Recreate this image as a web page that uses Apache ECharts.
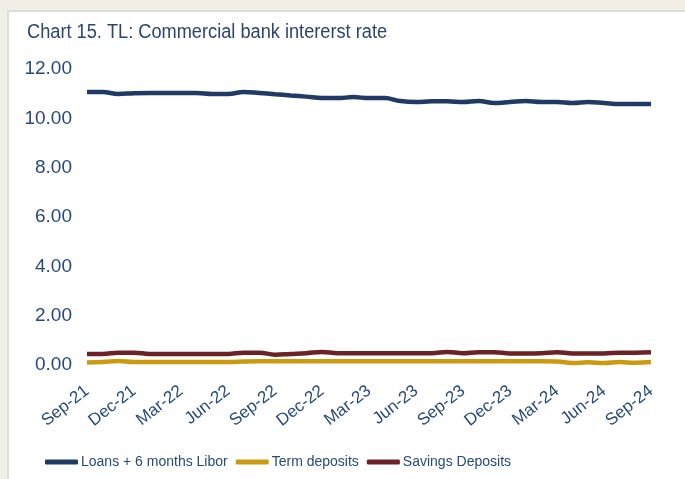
<!DOCTYPE html>
<html>
<head>
<meta charset="utf-8">
<script src="https://cdn.jsdelivr.net/npm/echarts@6/dist/echarts.min.js"></script>
<style>
  html, body { margin: 0; padding: 0; width: 685px; height: 479px; overflow: hidden; background: #f1eee6; }
  #frame { position: absolute; left: 7px; top: 10px; width: 700px; height: 500px; background: #fff; border: 2px solid #dcdcdc; }
  #chart { position: absolute; left: 0; top: 0; width: 685px; height: 479px; }
</style>
</head>
<body>
<div id="frame"></div>
<div id="chart"></div>
<script>
// monthly, Sep-21 .. Sep-24
const months = ['Sep-21','Oct-21','Nov-21','Dec-21','Jan-22','Feb-22','Mar-22','Apr-22','May-22','Jun-22','Jul-22','Aug-22',
  'Sep-22','Oct-22','Nov-22','Dec-22','Jan-23','Feb-23','Mar-23','Apr-23','May-23','Jun-23','Jul-23','Aug-23',
  'Sep-23','Oct-23','Nov-23','Dec-23','Jan-24','Feb-24','Mar-24','Apr-24','May-24','Jun-24','Jul-24','Aug-24','Sep-24'];

const loans = [11.07,11.07,10.99,11.02,11.03,11.03,11.03,11.03,10.99,10.99,11.07,11.03,
  10.98,10.93,10.88,10.82,10.82,10.86,10.82,10.82,10.70,10.66,10.69,10.69,
  10.66,10.70,10.62,10.66,10.70,10.66,10.66,10.62,10.66,10.62,10.58,10.58,10.58];

const termDeposits = [0.10,0.12,0.16,0.12,0.12,0.12,0.12,0.12,0.12,0.12,0.14,0.15,
  0.15,0.15,0.15,0.15,0.15,0.15,0.15,0.15,0.15,0.15,0.15,0.15,
  0.15,0.15,0.15,0.15,0.15,0.15,0.14,0.08,0.11,0.08,0.12,0.09,0.12];

const savingsDeposits = [0.45,0.45,0.50,0.50,0.45,0.45,0.45,0.45,0.45,0.45,0.50,0.50,
  0.42,0.45,0.48,0.53,0.48,0.48,0.48,0.48,0.48,0.48,0.48,0.53,
  0.48,0.52,0.52,0.47,0.47,0.48,0.52,0.47,0.47,0.47,0.50,0.50,0.52];

const seriesNames = ['Loans + 6 months Libor', 'Term deposits', 'Savings Deposits'];
const colors = ['#1f3a64', '#cc9a10', '#6b2226'];

const textColor = '#264a7a';
const sans = "'Liberation Sans', Arial, sans-serif";

const chart = echarts.init(document.getElementById('chart'));
chart.setOption({
  animation: false,
  color: colors,
  // title drawn as graphic text so it can be squeezed like the narrow original font
  graphic: [{
    type: 'text', left: 27, top: 22, scaleX: 0.91, originX: 27,
    style: { text: 'Chart 15. TL: Commercial bank intererst rate', fill: '#2a4670', fontSize: 20, fontFamily: sans }
  }],
  grid: { left: 87, right: 34, top: 69, bottom: 114 },
  legend: {
    data: seriesNames,
    left: 40, top: 450,
    icon: 'roundRect',
    itemWidth: 33, itemHeight: 5, itemGap: 8,
    textStyle: { color: textColor, fontSize: 14, fontFamily: sans, padding: [0, 0, 0, -2] }
  },
  xAxis: {
    type: 'category',
    data: months,
    boundaryGap: false,
    axisLine: { show: false },
    axisTick: { show: false },
    axisLabel: {
      interval: 2, rotate: 38, margin: 24,
      color: textColor, fontSize: 17, fontFamily: sans
    }
  },
  yAxis: {
    type: 'value',
    min: 0, max: 12, interval: 2,
    splitLine: { show: false },
    axisLabel: {
      margin: 15,
      color: textColor, fontSize: 19, fontFamily: sans,
      formatter: v => v.toFixed(2)
    }
  },
  series: [
    { name: seriesNames[0], type: 'line', data: loans, smooth: 0.4, showSymbol: false, lineStyle: { width: 4.5 } },
    { name: seriesNames[1], type: 'line', data: termDeposits, smooth: 0.4, showSymbol: false, lineStyle: { width: 4.5 } },
    { name: seriesNames[2], type: 'line', data: savingsDeposits, smooth: 0.4, showSymbol: false, lineStyle: { width: 4.5 } }
  ]
});
</script>
</body>
</html>
